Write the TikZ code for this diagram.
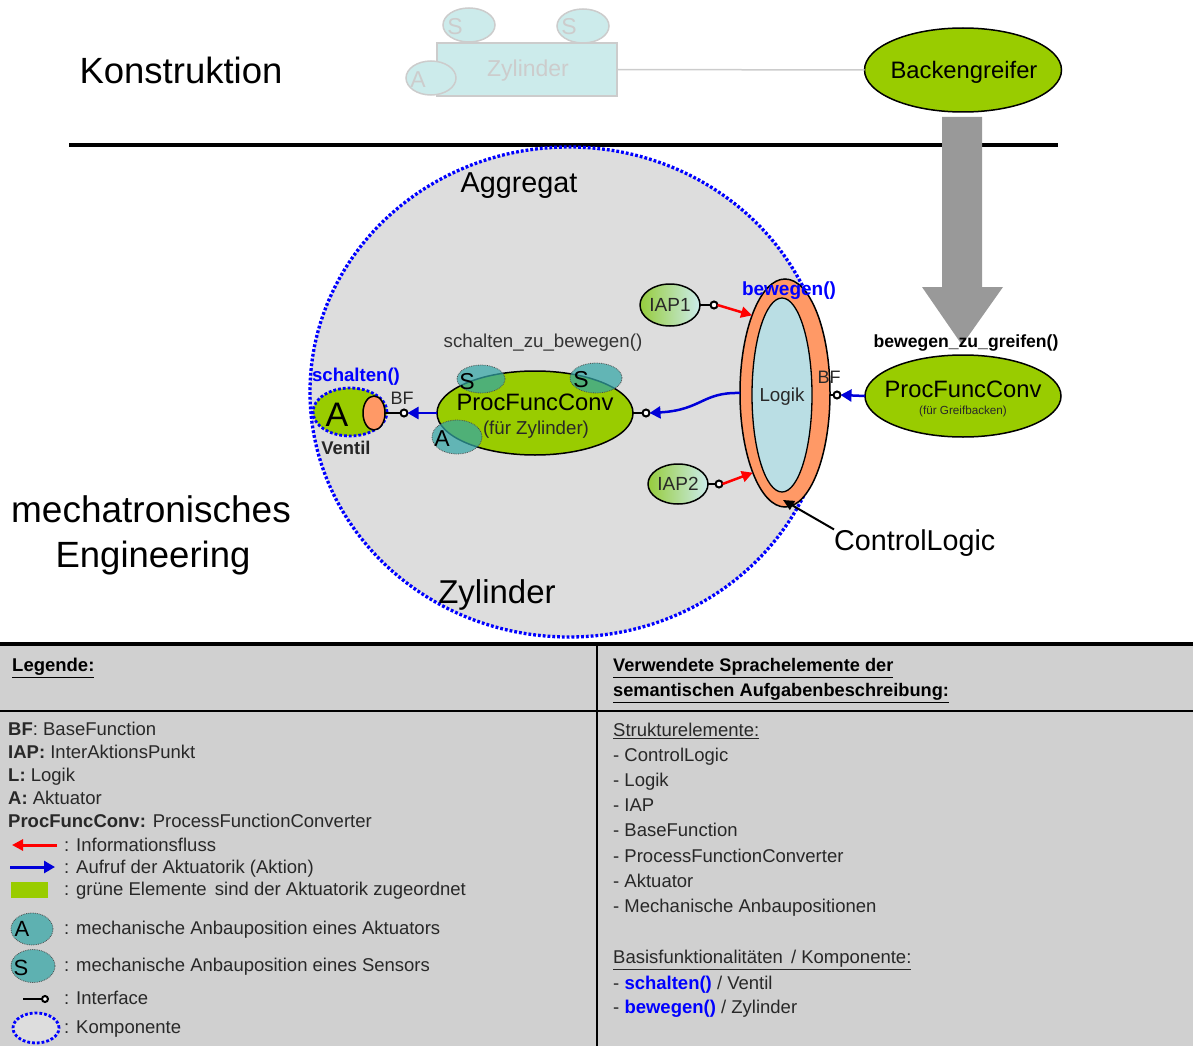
\documentclass[tikz,border=0pt]{standalone}
\usepackage{fontspec}
\setmainfont{Liberation Sans}
\usetikzlibrary{shapes.geometric,arrows.meta,calc}

\newcommand\fsz[1]{\fontsize{#1}{#1}\selectfont}

\definecolor{actgreen}{RGB}{153,204,0}
\definecolor{valveorange}{RGB}{255,153,102}
\definecolor{logikblue}{RGB}{186,222,228}
\definecolor{mountteal}{RGB}{51,166,166}
\definecolor{compgray}{RGB}{221,221,221}
\definecolor{tablegray}{RGB}{208,208,208}
\definecolor{fadefill}{RGB}{204,235,235}
\definecolor{fadeline}{RGB}{204,204,204}
\definecolor{bigarrow}{RGB}{153,153,153}
\definecolor{iapgreen}{RGB}{150,204,60}
\definecolor{iapcyan}{RGB}{204,236,236}
\definecolor{darktext}{RGB}{40,40,40}

\tikzset{
  ell/.style={ellipse, inner sep=0pt, outer sep=0pt},
  actuator/.style={ell, draw=black, line width=1.5pt, fill=actgreen},
  comp/.style={draw=blue, line width=3.3pt, dash pattern=on 2.8pt off 2pt},
  mount/.style={ell, fill=mountteal, fill opacity=0.72, draw=black!70, line width=0.8pt, densely dotted},
  iap/.style={ell, draw=black, line width=1.5pt, left color=iapgreen, right color=iapcyan, minimum width=60pt},
  iface/.style={circle, draw=black, line width=2pt, fill=white, minimum size=7pt, inner sep=0pt, outer sep=0pt},
  ifline/.style={draw=black, line width=2.2pt},
  callarrow/.style={draw=blue!85!black, line width=2.5pt, -{Triangle[length=11pt,width=12pt]}},
  infoarrow/.style={draw=red, line width=2.5pt, -{Triangle[length=11pt,width=11pt]}},
  txt/.style={inner sep=0pt, font=\fsz{18.5}, text=darktext},
  ltxt/.style={txt, anchor=west, text height=13.2pt, text depth=0pt},
}

\begin{document}
\begin{tikzpicture}[x=1pt, y=-1pt]
\useasboundingbox (0,0) rectangle (1193,1046);

% ---------- Konstruktion level ----------
\node[txt, font=\fsz{36.5}, text=black] (konstr) at (181,70) {Konstruktion};

\node[draw=fadeline, line width=1.5pt, fill=fadefill, minimum width=180pt, minimum height=53pt, inner sep=0pt] (zylR) at (527,69.5) {};
\node[ell, draw=fadeline, line width=1.5pt, fill=fadefill, minimum width=52pt, minimum height=34pt] (zS1) at (469,25) {};
\node[ell, draw=fadeline, line width=1.5pt, fill=fadefill, minimum width=52pt, minimum height=34pt] (zS2) at (583,26) {};
\node[ell, draw=fadeline, line width=1.5pt, fill=fadefill, minimum width=50pt, minimum height=34pt] (zA) at (431,78) {};
\node[txt, font=\fsz{23}, text=fadeline] (zS1t) at (455,27) {S};
\node[txt, font=\fsz{23}, text=fadeline] (zS2t) at (569,27) {S};
\node[txt, font=\fsz{23}, text=fadeline] (zAt) at (418,80) {A};
\node[txt, font=\fsz{23}, text=fadeline] (zylRt) at (528,71) {Zylinder};

\node[actuator, minimum width=197pt, minimum height=84pt] (backen) at (963,70) {};
\node[txt, font=\fsz{23.8}, text=black] (backent) at (964,72) {Backengreifer};
\draw[fadeline, line width=1.5pt] (zylR.east) -- (backen.west);

% level separator
\draw[black, line width=4pt] (69,145) -- (1058,145);

% refinement arrow
\fill[bigarrow] (942,117) -- (982,117) -- (982,287) -- (1003,287) -- (962,345) -- (922,287) -- (942,287) -- cycle;

% ---------- Zylinder component ----------
\node[ell, fill=compgray, comp, minimum width=518pt, minimum height=490pt] (zyl) at (569,392) {};
\node[txt, font=\fsz{28.8}, text=black] (aggr) at (519,186) {Aggregat};
\node[txt, font=\fsz{33}, text=black] (zylt) at (497,595) {Zylinder};

% ControlLogic with Logik
\node[ell, draw=black, line width=1.5pt, fill=valveorange, minimum width=90pt, minimum height=228pt] (clogic) at (785,393) {};
\node[ell, draw=black, line width=1.3pt, fill=logikblue, minimum width=60pt, minimum height=194pt] (logik) at (782,395) {};
\node[txt, font=\fsz{18.8}] (logikt) at (782,397) {Logik};
\node[txt, font=\bfseries\fsz{19}, text=blue] (bewegen) at (789,291) {bewegen()};

% interaction points
\node[iap, minimum height=42pt] (iap1) at (670,305) {};
\node[txt, font=\fsz{19}] at (670,305) {IAP1};
\node[iface] (if1) at (714,305) {};
\draw[ifline] (iap1.east) -- (if1.west);
\draw[infoarrow] (if1.east) -- (clogic.113);

\node[iap, minimum height=40pt] (iap2) at (678,484) {};
\node[txt, font=\fsz{19}] at (678,484) {IAP2};
\node[iface] (if2) at (719,484) {};
\draw[ifline] (iap2.east) -- (if2.west);
\draw[infoarrow] (if2.east) -- (clogic.248);

% base function of the control logic
\node[iface] (ifL) at (837,395) {};
\draw[ifline] (clogic.east |- ifL) -- (ifL.west);
\node[txt, font=\fsz{18}] (bfL) at (829,377) {BF};

% ProcFuncConv of the cylinder
\node[actuator, minimum width=196pt, minimum height=84pt] (pfcZ) at (535,413) {};
\node[mount, minimum width=48pt, minimum height=28pt] (mS1) at (481,379) {};
\node[mount, minimum width=52pt, minimum height=30pt] (mS2) at (596,378) {};
\node[mount, minimum width=50pt, minimum height=34pt] (mA) at (457,437) {};
\node[txt, font=\fsz{23.7}, text=black] (pfcZt) at (535,402) {ProcFuncConv};
\node[txt, font=\fsz{18.7}] (pfcZs) at (536,430) {(für Zylinder)};
\node[txt, font=\fsz{23}, text=black] at (467,382) {S};
\node[txt, font=\fsz{23}, text=black] at (581,380) {S};
\node[txt, font=\fsz{23}, text=black] at (442,439) {A};
\node[txt, font=\fsz{18.7}, text=black!80] (szb) at (543,343) {schalten\_zu\_bewegen()};

\node[iface] (ifZ) at (646,413) {};
\draw[ifline] (pfcZ.east) -- (ifZ.west);
\draw[callarrow] (clogic.west) .. controls (702,392) and (702,410) .. (ifZ.east);

% Ventil
\node[ell, fill=actgreen, comp, line width=2.8pt, minimum width=74pt, minimum height=48pt] (ventil) at (350,412) {};
\node[ell, draw=black, line width=1.5pt, fill=valveorange, minimum width=22pt, minimum height=34pt] (valve) at (374,413) {};
\node[txt, font=\fsz{34}, text=black] (ventA) at (337,415) {A};
\node[iface] (ifV) at (404,413) {};
\draw[ifline] (valve.east) -- (ifV.west);
\node[txt, font=\fsz{18}] (bfV) at (402,398) {BF};
\node[txt, font=\bfseries\fsz{18.6}, text=blue] (schalten) at (356,377) {schalten()};
\node[txt, font=\bfseries\fsz{18.4}, text=black!85] (ventilt) at (346,448) {Ventil};
\draw[callarrow] (pfcZ.west) -- (ifV.east);

% ProcFuncConv of the jaws
\node[actuator, minimum width=196pt, minimum height=82pt] (pfcG) at (963,396) {};
\node[txt, font=\fsz{23.7}, text=black] (pfcGt) at (963,389) {ProcFuncConv};
\node[txt, font=\fsz{11.7}] (pfcGs) at (963,411) {(für Greifbacken)};
\node[txt, font=\bfseries\fsz{17.6}, text=black] (bzg) at (966,343) {bewegen\_zu\_greifen()};
\draw[callarrow] (pfcG.west) -- (ifL.east);

% ControlLogic label
\node[txt, font=\fsz{28.7}, text=black, anchor=west] (cltext) at (834,543) {ControlLogic};
\coordinate (cltip) at ($(clogic.south)+(-2,-7)$);
\draw[black, line width=2pt, -{Triangle[length=11pt,width=10pt]}] (cltext.north west) -- (cltip);

% ---------- mechatronic engineering level ----------
\node[txt, font=\fsz{37}, text=black] (mech1) at (151,509) {mechatronisches};
\node[txt, font=\fsz{36.5}, text=black] (mech2) at (153,558) {Engineering};

% ---------- legend table ----------
\fill[tablegray] (0,646) rectangle (1193,1046);
\draw[black, line width=4pt] (0,644) -- (1193,644);
\draw[black, line width=2pt] (0,711) -- (1193,711);
\draw[black, line width=2pt] (597,644) -- (597,1046);

\node[ltxt, font=\bfseries\fsz{18.5}, text=black] (legh) at (12,665) {\underline{Legende:}};
\node[ltxt, font=\bfseries\fsz{18.2}, text=black] (rh1) at (613,665) {\underline{Verwendete Sprachelemente der}};
\node[ltxt, font=\bfseries\fsz{18.2}, text=black] (rh2) at (613,690) {\underline{semantischen Aufgabenbeschreibung:}};

% abbreviations
\node[ltxt] (l1) at (8,729) {\textbf{BF}: BaseFunction};
\node[ltxt] (l2) at (8,752) {\textbf{IAP:} InterAktionsPunkt};
\node[ltxt] (l3) at (8,775) {\textbf{L:} Logik};
\node[ltxt] (l4) at (8,798) {\textbf{A:} Aktuator};
\node[ltxt] (l5) at (8,821) {\textbf{ProcFuncConv:} ProcessFunctionConverter};

% symbols
\coordinate (redA) at (57,845);
\coordinate (redB) at (12,845);
\draw[infoarrow, line width=3pt] (redA) -- (redB);
\node[ltxt] (s1) at (64,845) {: Informationsfluss};

\coordinate (blueA) at (10,867);
\coordinate (blueB) at (55,867);
\draw[callarrow, line width=3pt] (blueA) -- (blueB);
\node[ltxt] (s2) at (64,867) {: Aufruf der Aktuatorik (Aktion)};

\node[fill=actgreen, minimum width=37pt, minimum height=16pt, inner sep=0pt] (greenbox) at (29.5,890) {};
\node[ltxt] (s3) at (64,889) {: grüne Elemente\, sind der Aktuatorik zugeordnet};

\node[mount, minimum width=42pt, minimum height=32pt] (legA) at (32,929) {};
\node[txt, font=\fsz{22}, text=black] at (22,929) {A};
\node[ltxt] (s4) at (64,928) {: mechanische Anbauposition eines Aktuators};

\node[mount, minimum width=44pt, minimum height=33pt] (legS) at (33,966) {};
\node[txt, font=\fsz{22}, text=black] at (21,968) {S};
\node[ltxt] (s5) at (64,965) {: mechanische Anbauposition eines Sensors};

\coordinate (legIfA) at (23,999);
\node[iface, minimum size=6pt] (legIf) at (45,999) {};
\draw[ifline] (legIfA) -- (legIf.west);
\node[ltxt] (s6) at (64,998) {: Interface};

\node[ell, fill=compgray, comp, line width=2.8pt, minimum width=46pt, minimum height=30pt] (legK) at (36,1028) {};
\node[ltxt] (s7) at (64,1027) {: Komponente};

% language elements
\node[ltxt] (r1) at (613,730) {\underline{Strukturelemente:}};
\node[ltxt] (r2) at (613,755) {- ControlLogic};
\node[ltxt] (r3) at (613,780) {- Logik};
\node[ltxt] (r4) at (613,805) {- IAP};
\node[ltxt] (r5) at (613,830) {- BaseFunction};
\node[ltxt] (r6) at (613,856) {- ProcessFunctionConverter};
\node[ltxt] (r7) at (613,881) {- Aktuator};
\node[ltxt] (r8) at (613,906) {- Mechanische Anbaupositionen};
\node[ltxt] (r9) at (613,957) {\underline{Basisfunktionalitäten\, / Komponente:}};
\node[ltxt] (r10) at (613,983) {- \textcolor{blue}{\textbf{schalten()}} / Ventil};
\node[ltxt] (r11) at (613,1007) {- \textcolor{blue}{\textbf{bewegen()}} / Zylinder};

\end{tikzpicture}
\end{document}
